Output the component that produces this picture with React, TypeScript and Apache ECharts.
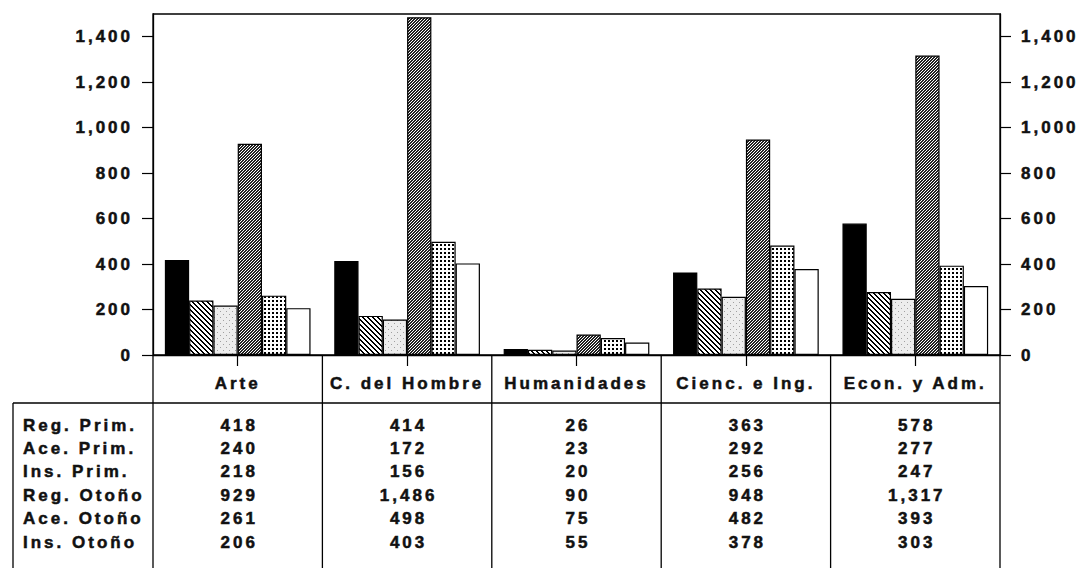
import React, { useEffect, useRef } from "react";
import * as echarts from "echarts";

const categories = ["Arte", "C. del Hombre", "Humanidades", "Cienc. e Ing.", "Econ. y Adm."];
const seriesNames = ["Reg. Prim.", "Ace. Prim.", "Ins. Prim.", "Reg. Otoño", "Ace. Otoño", "Ins. Otoño"];
const regPrim = [418, 414, 26, 363, 578];
const acePrim = [240, 172, 23, 292, 277];
const insPrim = [218, 156, 20, 256, 247];
const regOtono = [929, 1486, 90, 948, 1317];
const aceOtono = [261, 498, 75, 482, 393];
const insOtono = [206, 403, 55, 378, 303];
const yTicks = [0, 200, 400, 600, 800, 1000, 1200, 1400];

const FONT = '"Liberation Sans", Arial, Helvetica, sans-serif';
const FS = 17;
const W = 1089;
const H = 568;
const G_LEFT = 153;
const G_RIGHT = 1000;
const G_TOP = 14;
const G_BOTTOM = 355;
const HEADER_BOTTOM = 403;
const TABLE_LEFT = 13;
const ROW_Y0 = 425;
const ROW_H = 23.4;

function fmt(v: number) {
  return v.toLocaleString("en-US");
}

function makeTile(size: number, bg: string, fn: (x: number, y: number) => string | null) {
  const c = document.createElement("canvas");
  c.width = size;
  c.height = size;
  const ctx = c.getContext("2d")!;
  ctx.fillStyle = bg;
  ctx.fillRect(0, 0, size, size);
  for (let y = 0; y < size; y++) {
    for (let x = 0; x < size; x++) {
      const col = fn(x, y);
      if (col) {
        ctx.fillStyle = col;
        ctx.fillRect(x, y, 1, 1);
      }
    }
  }
  return { image: c, repeat: "repeat", imageWidth: size, imageHeight: size } as any;
}

export default function App() {
  const ref = useRef<HTMLDivElement>(null);

  useEffect(() => {
    document.body.style.margin = "0";
    if (!ref.current) return;
    const chart = echarts.init(ref.current, undefined, { renderer: "svg", width: W, height: H });

    const fills: any[] = [
      "#000000",
      makeTile(5, "#ffffff", (x, y) => (((x - y) % 5 + 5) % 5 < 2 ? "#000000" : null)),
      makeTile(6, "#ededed", (x, y) => ((x === 1 && y === 2) || (x === 4 && y === 5) ? "#a0a0a0" : null)),
      makeTile(3, "#ffffff", (x, y) => ((x + y) % 3 < 2 ? "#222222" : null)),
      makeTile(4, "#ffffff", (x, y) => (x < 2 && y < 2 ? "#000000" : null)),
      "#ffffff",
    ];
    const seriesData = [regPrim, acePrim, insPrim, regOtono, aceOtono, insOtono];

    const catW = (G_RIGHT - G_LEFT) / categories.length;
    const graphics: any[] = [];
    const lineStyle = { stroke: "#000", lineWidth: 1.3 };
    for (let i = 0; i <= categories.length; i++) {
      const x = G_LEFT + i * catW;
      graphics.push({ type: "line", shape: { x1: x, y1: G_BOTTOM, x2: x, y2: H }, style: lineStyle, silent: true });
    }
    graphics.push({ type: "line", shape: { x1: TABLE_LEFT, y1: HEADER_BOTTOM, x2: G_RIGHT, y2: HEADER_BOTTOM }, style: lineStyle, silent: true });
    graphics.push({ type: "line", shape: { x1: TABLE_LEFT, y1: HEADER_BOTTOM, x2: TABLE_LEFT, y2: H }, style: lineStyle, silent: true });

    const textStyle = { fill: "#111", font: `bold ${FS}px ${FONT}`, stroke: "#111", lineWidth: 0.5 };
    seriesNames.forEach((name, r) => {
      const y = ROW_Y0 + r * ROW_H;
      graphics.push({ type: "text", x: TABLE_LEFT + 10, y, style: { ...textStyle, text: name, textAlign: "left", textVerticalAlign: "middle" }, silent: true });
      seriesData[r].forEach((v, i) => {
        graphics.push({
          type: "text",
          x: G_LEFT + (i + 0.5) * catW + 1.5,
          y,
          style: { ...textStyle, text: fmt(v), textAlign: "center", textVerticalAlign: "middle" },
          silent: true,
        });
      });
    });

    const labelBase = {
      color: "#111",
      fontFamily: FONT,
      fontWeight: "bold",
      fontSize: FS,
      textBorderColor: "#111",
      textBorderWidth: 0.5,
    };

    const yAxisBase = {
      type: "value",
      min: 0,
      max: 1500,
      interval: 100,
      splitLine: { show: false },
      axisLine: { show: true, lineStyle: { color: "#000", width: 1.3 } },
      axisTick: { show: true, length: 11, customValues: yTicks, lineStyle: { color: "#000", width: 1.2 } },
      axisLabel: {
        ...labelBase,
        customValues: yTicks,
        formatter: (v: number) => fmt(v),
      },
    };

    chart.setOption({
      animation: false,
      backgroundColor: "#ffffff",
      grid: {
        left: G_LEFT,
        right: W - G_RIGHT,
        top: G_TOP,
        bottom: H - G_BOTTOM,
        show: true,
        borderColor: "#000",
        borderWidth: 1.3,
        backgroundColor: "transparent",
      },
      xAxis: {
        type: "category",
        data: categories,
        axisLine: { show: true, lineStyle: { color: "#000", width: 1.3 } },
        axisTick: { show: true, alignWithLabel: true, length: 11, lineStyle: { color: "#000", width: 1.2 } },
        axisLabel: {
          ...labelBase,
          interval: 0,
          margin: 28,
          verticalAlign: "middle",
        },
        splitLine: { show: false },
      },
      yAxis: [
        { ...yAxisBase, position: "left", axisLabel: { ...yAxisBase.axisLabel, margin: 20 } },
        { ...yAxisBase, position: "right", axisLabel: { ...yAxisBase.axisLabel, margin: 21 } },
      ],
      series: seriesNames.map((name, k) => ({
        name,
        type: "bar",
        data: seriesData[k],
        barGap: "0%",
        barCategoryGap: "14%",
        itemStyle: { color: fills[k], borderColor: "#000", borderWidth: 1.2 },
        emphasis: { disabled: true },
      })),
      graphic: graphics,
    });

    return () => {
      chart.dispose();
    };
  }, []);

  return (
    <div>
      <style>{`.chartbox text { letter-spacing: 3px; }`}</style>
      <div className="chartbox" ref={ref} style={{ width: W, height: H }} />
    </div>
  );
}
